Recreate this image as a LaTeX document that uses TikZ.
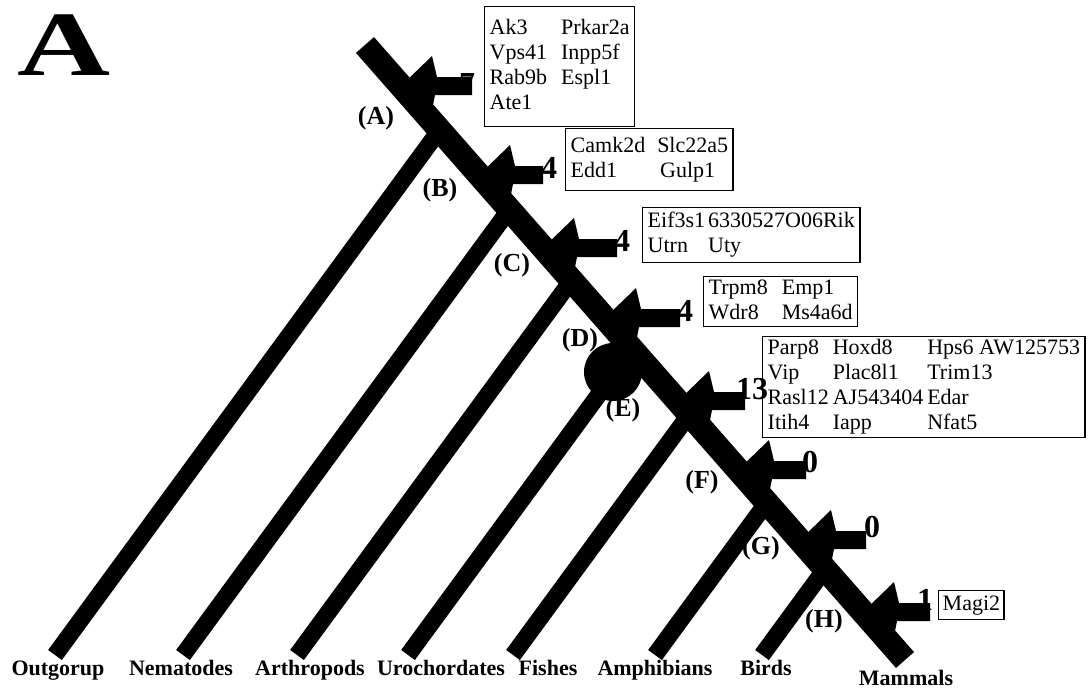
\documentclass[tikz,border=0pt]{standalone}
\usepackage{fontspec}
\setmainfont{Liberation Serif}
\newcommand\garrow[2]{\fill (#1) -- ++(31,-30) -- ++(5,21) -- ++({#2-36},0) -- ++(0,18) -- ++({34-#2},0) -- ++(-4,20) -- cycle;}
\begin{document}
\begin{tikzpicture}[x=1pt,y=-1pt,
  trunk/.style={line width=24pt},
  branch/.style={line width=17pt},
  genebox/.style={draw, line width=1.4pt, anchor=north west, inner xsep=5pt, inner ysep=0pt,
     font=\fontsize{22}{25}\selectfont},
  nodelab/.style={font=\bfseries\fontsize{26}{26}\selectfont, inner sep=0pt},
  taxon/.style={font=\bfseries\fontsize{22}{22}\selectfont, inner sep=0pt, anchor=base},
  count/.style={font=\bfseries\fontsize{32}{32}\selectfont, inner sep=0pt}
]
\useasboundingbox (0,0) rectangle (1089,689);
\fill[white] (0,0) rectangle (1089,689);

% big panel letter
\node[font=\bfseries\fontsize{92}{92}\selectfont, inner sep=0pt] (panel) at (64,45) {\scalebox{1.4}[1]{A}};

% junctions and trunk
\coordinate (top) at (365,45);
\coordinate (end) at (905,660);
\coordinate (jA) at (439.6,130);
\coordinate (jB) at (509.4,209.5);
\coordinate (jC) at (571.5,280.3);
\coordinate (jD) at (632.0,349.2);
\coordinate (jE) at (689.3,414.4);
\coordinate (jF) at (766.7,502.6);
\coordinate (jG) at (825.0,569.0);

\coordinate (bOut) at (55,655);
\coordinate (bNem) at (183,655);
\coordinate (bArt) at (297,655);
\coordinate (bUro) at (408,655);
\coordinate (bFis) at (513,655);
\coordinate (bAmp) at (655,655);
\coordinate (bBir) at (762,655);

\draw[branch] (bOut) -- (jA);
\draw[branch] (bNem) -- (jB);
\draw[branch] (bArt) -- (jC);
\draw[branch] (bUro) -- (jD);
\draw[branch] (bFis) -- (jE);
\draw[branch] (bAmp) -- (jF);
\draw[branch] (bBir) -- (jG);
\draw[trunk] (top) -- (end);
\node[circle, fill=black, minimum size=58pt, inner sep=0pt] (blob) at (613,372) {};

% counts (partly covered by arrow bars)
\node[count] (nA) at (467,84) {7};
\node[count] (nB) at (549,168) {4};
\node[count] (nC) at (622,241) {4};
\node[count] (nD) at (685,311) {4};
\node[count] (nE) at (752,389) {13};
\node[count] (nF) at (810,462) {0};
\node[count] (nG) at (872,527) {0};
\node[count] (nH) at (925,600) {1};

% arrows pointing at the trunk
\coordinate (tA) at (401,86);
\coordinate (tB) at (479,175);
\coordinate (tC) at (543,248);
\coordinate (tD) at (605,318);
\coordinate (tE) at (678,401);
\coordinate (tF) at (738,470);
\coordinate (tG) at (800,540);
\coordinate (tH) at (863,612);
\garrow{tA}{71}
\garrow{tB}{64}
\garrow{tC}{74}
\garrow{tD}{75}
\garrow{tE}{67}
\garrow{tF}{68}
\garrow{tG}{66}
\garrow{tH}{67}

% gene boxes
\node[genebox, minimum height=120pt] (box1) at (484,6)
  {\begin{tabular}{@{}l@{\hspace{14pt}}l@{}}Ak3 & Prkar2a\\ Vps41 & Inpp5f\\ Rab9b & Espl1\\ Ate1 & \end{tabular}};
\node[genebox, minimum height=62pt] (box2) at (565,128)
  {\begin{tabular}{@{}l@{\hspace{12pt}}l@{}}Camk2d & Slc22a5\\ Edd1 & \hspace{3pt}Gulp1\end{tabular}};
\node[genebox, minimum height=55pt] (box3) at (642,207)
  {\begin{tabular}{@{}l@{\hspace{3pt}}l@{}}Eif3s1 & 6330527O06Rik\\ Utrn & Uty\end{tabular}};
\node[genebox, minimum height=50pt] (box4) at (703,276)
  {\begin{tabular}{@{}l@{\hspace{14pt}}l@{}}Trpm8 & Emp1\\ Wdr8 & Ms4a6d\end{tabular}};
\node[genebox, minimum height=101pt] (box5) at (762,336)
  {\begin{tabular}{@{}l@{\hspace{4pt}}l@{\hspace{4pt}}l@{}}Parp8 & Hoxd8 & Hps6 AW125753\\ Vip & Plac8l1 & Trim13\\ Rasl12 & AJ543404 & Edar\\ Itih4 & Iapp & Nfat5\end{tabular}};
\node[genebox, inner xsep=4pt, minimum height=29pt] (box6) at (938,590) {Magi2};

% node labels
\node[nodelab] (lA) at (376,118) {(A)};
\node[nodelab] (lB) at (440,190) {(B)};
\node[nodelab] (lC) at (512,265) {(C)};
\node[nodelab] (lD) at (580,340) {(D)};
\node[nodelab] (lE) at (623,410) {(E)};
\node[nodelab] (lF) at (702,482) {(F)};
\node[nodelab] (lG) at (761,548) {(G)};
\node[nodelab] (lH) at (824,621) {(H)};

% taxa
\node[taxon] (xOut) at (58,675) {Outgorup};
\node[taxon] (xNem) at (181,675) {Nematodes};
\node[taxon] (xArt) at (310,675) {Arthropods};
\node[taxon] (xUro) at (441,675) {Urochordates};
\node[taxon] (xFis) at (548,675) {Fishes};
\node[taxon] (xAmp) at (655,675) {Amphibians};
\node[taxon] (xBir) at (766,675) {Birds};
\node[taxon] (xMam) at (906,685) {Mammals};
\end{tikzpicture}
\end{document}
